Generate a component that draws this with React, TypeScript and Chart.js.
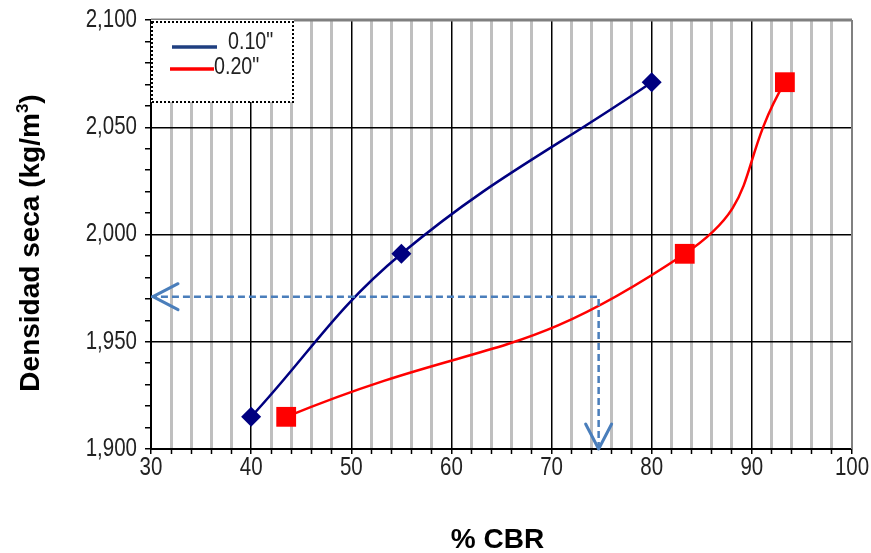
import { useEffect, useRef } from "react";
import { Chart, registerables } from "chart.js";

Chart.register(...registerables);

// Dry density (kg/m3) of the three compaction points
const densities = [1915, 1991, 2071];
// CBR (%) at 0.10" and 0.20" penetration for each point
const cbr010 = [40, 55, 80];
const cbr020 = [43.5, 83.3, 93.3];
const seriesLabels = ['0.10"', '0.20"'];
// Design reading: target density and the CBR it gives
const designDensity = 1971;
const designCbr = 74.7;

// Axis ranges and labelled ticks
const xMin = 30;
const xMax = 100;
const yMin = 1900;
const yMax = 2100;
const xTickLabels = [30, 40, 50, 60, 70, 80, 90, 100];
const yTickLabels = [1900, 1950, 2000, 2050, 2100];

const SANS = '"Liberation Sans", Arial, sans-serif';
const NARROW_SCALE = 0.82;

const GUIDE_COLOR = "#4a7ebb";

// draws text squeezed horizontally, to mimic a narrow face
function narrowText(
  ctx: CanvasRenderingContext2D,
  text: string,
  x: number,
  y: number,
  align: "left" | "center" | "right",
) {
  ctx.save();
  ctx.translate(x, y);
  ctx.scale(NARROW_SCALE, 1);
  ctx.textAlign = align;
  ctx.textBaseline = "middle";
  ctx.fillText(text, 0, 0);
  ctx.restore();
}

const decorations = {
  id: "decorations",
  afterDatasetsDraw(chart: any) {
    const { ctx, chartArea, scales } = chart;
    const xs = scales.x;
    const ys = scales.y;

    // plot frame (top and right edges)
    ctx.save();
    ctx.strokeStyle = "#808080";
    ctx.lineWidth = 3;
    ctx.beginPath();
    ctx.moveTo(chartArea.left, chartArea.top);
    ctx.lineTo(chartArea.right, chartArea.top);
    ctx.stroke();
    ctx.lineWidth = 2;
    ctx.beginPath();
    ctx.moveTo(chartArea.right, chartArea.top);
    ctx.lineTo(chartArea.right, chartArea.bottom);
    ctx.stroke();
    ctx.restore();

    // open arrow heads on the design guide
    const drawHead = (tx: number, ty: number, dx: number, dy: number) => {
      const len = 25;
      const half = 13;
      const px = -dy;
      const py = dx;
      ctx.save();
      ctx.strokeStyle = GUIDE_COLOR;
      ctx.lineWidth = 3;
      ctx.lineCap = "round";
      ctx.lineJoin = "round";
      ctx.beginPath();
      ctx.moveTo(tx - dx * len + px * half, ty - dy * len + py * half);
      ctx.lineTo(tx, ty);
      ctx.lineTo(tx - dx * len - px * half, ty - dy * len - py * half);
      ctx.stroke();
      ctx.restore();
    };
    drawHead(xs.getPixelForValue(designCbr), ys.getPixelForValue(yMin), 0, 1);
    drawHead(xs.getPixelForValue(xMin) + 2, ys.getPixelForValue(designDensity), -1, 0);

    // legend box
    const lx = chartArea.left;
    const ly = chartArea.top;
    const lw = 143;
    const lh = 82;
    ctx.save();
    ctx.fillStyle = "#ffffff";
    ctx.fillRect(lx, ly, lw, lh);
    ctx.strokeStyle = "#000000";
    ctx.lineWidth = 2;
    ctx.setLineDash([2, 2]);
    ctx.strokeRect(lx + 1, ly + 2, lw - 2, lh - 2);
    ctx.setLineDash([]);

    ctx.lineWidth = 3.5;
    ctx.strokeStyle = "#1f3f80";
    ctx.beginPath();
    ctx.moveTo(lx + 21, ly + 27);
    ctx.lineTo(lx + 66, ly + 27);
    ctx.stroke();
    ctx.strokeStyle = "#ff0000";
    ctx.beginPath();
    ctx.moveTo(lx + 19, ly + 49);
    ctx.lineTo(lx + 63, ly + 49);
    ctx.stroke();

    ctx.fillStyle = "#222222";
    ctx.font = `24px ${SANS}`;
    narrowText(ctx, seriesLabels[0], lx + 77, ly + 22, "left");
    narrowText(ctx, seriesLabels[1], lx + 63, ly + 47, "left");
    ctx.restore();
  },
  afterDraw(chart: any) {
    const { ctx, chartArea, scales } = chart;
    const xs = scales.x;
    const ys = scales.y;

    // tick labels
    ctx.save();
    ctx.fillStyle = "#222222";
    ctx.font = `25px ${SANS}`;
    for (const v of xTickLabels) {
      narrowText(ctx, String(v), xs.getPixelForValue(v), chartArea.bottom + 19, "center");
    }
    for (const v of yTickLabels) {
      narrowText(ctx, v.toLocaleString("en-US"), chartArea.left - 14, ys.getPixelForValue(v), "right");
    }
    ctx.restore();

    // axis titles
    ctx.save();
    ctx.fillStyle = "#000000";
    ctx.font = `bold 28px ${SANS}`;
    ctx.textAlign = "center";
    ctx.textBaseline = "middle";
    ctx.fillText("% CBR", (chartArea.left + chartArea.right) / 2 - 4, 540);

    // vertical title with superscript
    const main = "Densidad seca (kg/m";
    const sup = "3";
    const close = ")";
    ctx.translate(29, 243);
    ctx.rotate(-Math.PI / 2);
    ctx.textAlign = "left";
    ctx.textBaseline = "alphabetic";
    const mainFont = `bold 28px ${SANS}`;
    const supFont = `bold 17px ${SANS}`;
    ctx.font = mainFont;
    const wMain = ctx.measureText(main).width;
    const wClose = ctx.measureText(close).width;
    ctx.font = supFont;
    const wSup = ctx.measureText(sup).width;
    const total = wMain + wSup + wClose;
    let x = -total / 2;
    const base = 10;
    ctx.font = mainFont;
    ctx.fillText(main, x, base);
    x += wMain;
    ctx.font = supFont;
    ctx.fillText(sup, x, base - 11);
    x += wSup;
    ctx.font = mainFont;
    ctx.fillText(close, x, base);
    ctx.restore();
  },
};

export default function App() {
  const canvasRef = useRef<HTMLCanvasElement | null>(null);

  useEffect(() => {
    const canvas = canvasRef.current;
    if (!canvas) return;

    const chart = new Chart(canvas, {
      type: "line",
      data: {
        datasets: [
          {
            label: "guide",
            data: [
              { x: designCbr, y: yMin },
              { x: designCbr, y: designDensity },
              { x: xMin, y: designDensity },
            ],
            borderColor: GUIDE_COLOR,
            borderWidth: 2.5,
            borderDash: [7, 4],
            pointRadius: 0,
            tension: 0,
            order: 0,
          },
          {
            label: seriesLabels[0],
            data: cbr010.map((v, i) => ({ x: v, y: densities[i] })),
            borderColor: "#000080",
            backgroundColor: "#000080",
            borderWidth: 2.5,
            pointStyle: "rectRot",
            pointRadius: 10,
            pointBorderWidth: 0,
            tension: 0.4,
            order: 1,
          },
          {
            label: seriesLabels[1],
            data: cbr020.map((v, i) => ({ x: v, y: densities[i] })),
            borderColor: "#ff0000",
            backgroundColor: "#ff0000",
            borderWidth: 2.5,
            pointStyle: "rect",
            pointRadius: 14,
            pointBorderWidth: 0,
            tension: 0.5,
            order: 2,
          },
        ],
      },
      options: {
        animation: false,
        responsive: false,
        devicePixelRatio: 1,
        layout: { padding: { top: 20, right: 19, left: 0, bottom: 0 } },
        plugins: {
          legend: { display: false },
          tooltip: { enabled: false },
        },
        scales: {
          x: {
            type: "linear",
            min: xMin,
            max: xMax,
            afterFit: (s: any) => {
              s.height = 104;
            },
            ticks: {
              stepSize: 2,
              autoSkip: false,
              maxRotation: 0,
              padding: 4,
              color: "rgba(0,0,0,0)",
              font: { family: SANS, size: 12 },
              callback: () => "",
            },
            grid: {
              color: (c: any) => {
                const v = Math.round(c.tick?.value ?? 0);
                if (v === xMax) return "rgba(0,0,0,0)";
                return v % 10 === 0 ? "#000000" : "#bfbfbf";
              },
              lineWidth: (c: any) => (Math.round(c.tick?.value ?? 0) % 10 === 0 ? 1.5 : 3),
              tickColor: "#000000",
              tickWidth: 1.5,
              tickLength: 5,
            },
            border: { display: true, color: "#000000", width: 2 },
          },
          y: {
            type: "linear",
            min: yMin,
            max: yMax,
            afterFit: (s: any) => {
              s.width = 151;
            },
            ticks: {
              stepSize: 10,
              autoSkip: false,
              padding: 10,
              color: "rgba(0,0,0,0)",
              font: { family: SANS, size: 12 },
              callback: () => "",
            },
            grid: {
              color: (c: any) => {
                const v = Math.round(c.tick?.value ?? 0);
                if (v === yMax || v === yMin) return "rgba(0,0,0,0)";
                return v % 50 === 0 ? "#000000" : "rgba(0,0,0,0)";
              },
              lineWidth: 1.5,
              tickColor: "#000000",
              tickWidth: 1.5,
              tickLength: 6,
            },
            border: { display: true, color: "#000000", width: 2 },
          },
        },
      },
      plugins: [decorations],
    });

    return () => chart.destroy();
  }, []);

  return (
    <div style={{ position: "fixed", left: 0, top: 0, width: 871, height: 553, background: "#ffffff" }}>
      <canvas ref={canvasRef} width={871} height={553} style={{ display: "block" }} />
    </div>
  );
}
